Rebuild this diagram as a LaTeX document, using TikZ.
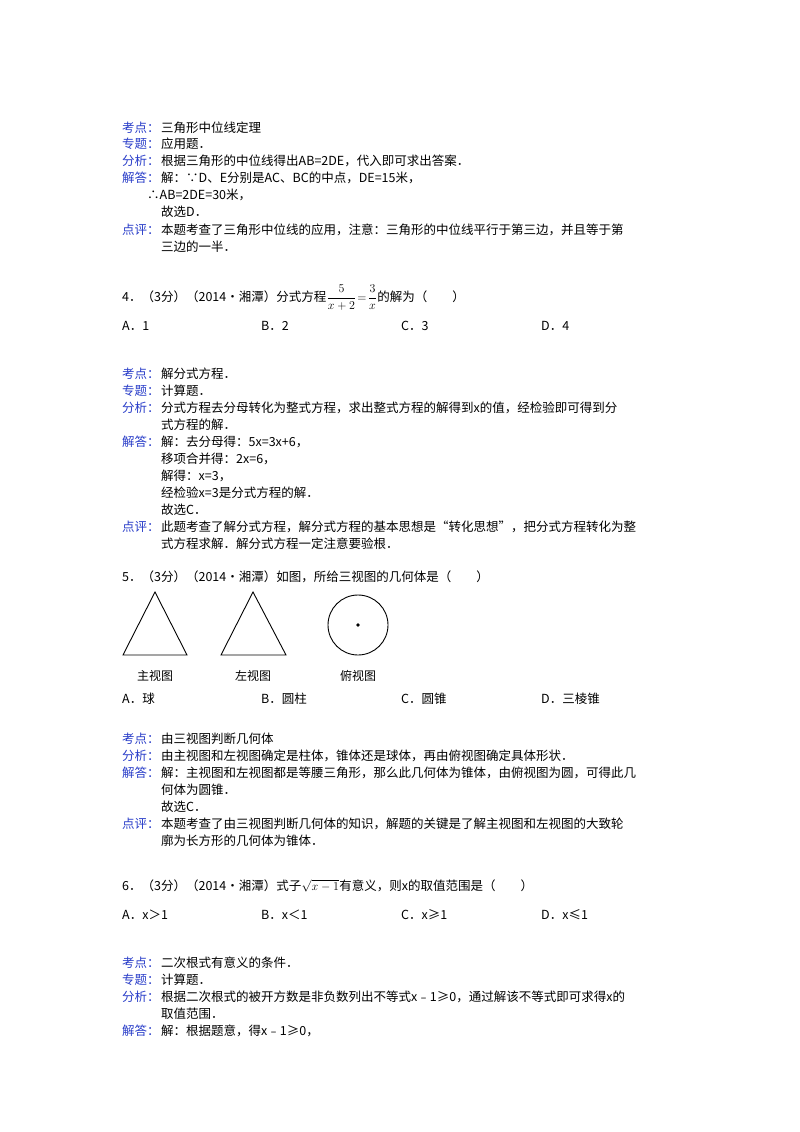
\documentclass[tikz,border=0pt]{standalone}
\usepackage{fontspec}
\setmainfont{Noto Sans CJK SC}
\definecolor{kd}{RGB}{40,60,200}
\begin{document}
\begin{tikzpicture}[x=1pt,y=-1pt,
  t/.style={anchor=base west,inner sep=0pt,font=\fontsize{12.5}{15}\selectfont},
  k/.style={t,text=kd},
  fig/.style={line width=0.9pt}]
\useasboundingbox (0,0) rectangle (800,1132);
\def\L{122}\def\M{161}
% block 1
\node[k] (k1) at (\L,132) {考点：};\node[t] (t1) at (\M,132) {三角形中位线定理};
\node[k] (k2) at (\L,148) {专题：};\node[t] (t2) at (\M,148) {应用题．};
\node[k] (k3) at (\L,165) {分析：};\node[t] (t3) at (\M,165) {根据三角形的中位线得出AB=2DE，代入即可求出答案．};
\node[k] (k4) at (\L,182) {解答：};\node[t] (t4) at (\M,182) {解：∵D、E分别是AC、BC的中点，DE=15米，};
\node[t] (t5) at (147,199) {∴AB=2DE=30米，};
\node[t] (t6) at (\M,216) {故选D．};
\node[k] (k5) at (\L,234) {点评：};\node[t] (t7) at (\M,234) {本题考查了三角形中位线的应用，注意：三角形的中位线平行于第三边，并且等于第};
\node[t] (t8) at (\M,251) {三边的一半．};
% Q4
\node[t] (q4) at (\L,301) {4．（3分）（2014•湘潭）分式方程};
\node[t] (f4) at (q4.base east) {$\displaystyle\frac{5}{x+2}\!=\!\frac{3}{x}$};
\node[t] (q4b) at (f4.base east) {的解为（\hspace{2em}）};
\node[t] (a4) at (\L,330) {A．1}; \node[t] (b4) at (261,330) {B．2};
\node[t] (c4) at (401,330) {C．3}; \node[t] (d4) at (541,330) {D．4};
\node[k] at (\L,378) {考点：};\node[t] at (\M,378) {解分式方程．};
\node[k] at (\L,395) {专题：};\node[t] at (\M,395) {计算题．};
\node[k] at (\L,412) {分析：};\node[t] at (\M,412) {分式方程去分母转化为整式方程，求出整式方程的解得到x的值，经检验即可得到分};
\node[t] at (\M,429) {式方程的解．};
\node[k] at (\L,446) {解答：};\node[t] at (\M,446) {解：去分母得：5x=3x+6，};
\node[t] at (\M,463) {移项合并得：2x=6，};
\node[t] at (\M,480) {解得：x=3，};
\node[t] at (\M,497) {经检验x=3是分式方程的解．};
\node[t] at (\M,514) {故选C．};
\node[k] at (\L,531) {点评：};\node[t] at (\M,531) {此题考查了解分式方程，解分式方程的基本思想是“转化思想”，把分式方程转化为整};
\node[t] at (\M,548) {式方程求解．解分式方程一定注意要验根．};
% Q5
\node[t] at (\L,581) {5．（3分）（2014•湘潭）如图，所给三视图的几何体是（\hspace{2em}）};
\draw[fig] (155,592) -- (123,655) -- (187,655) -- cycle;
\draw[fig] (253,592) -- (221,655) -- (286,655) -- cycle;
\draw[fig] (358,625) circle (30);
\fill (358,625) circle (1.8);
\node[anchor=center,font=\fontsize{12}{14}\selectfont] (l1) at (155,676) {主视图};
\node[anchor=center,font=\fontsize{12}{14}\selectfont] (l2) at (253,676) {左视图};
\node[anchor=center,font=\fontsize{12}{14}\selectfont] (l3) at (358,676) {俯视图};
\node[t] at (\L,703) {A．球}; \node[t] at (261,703) {B．圆柱};
\node[t] at (401,703) {C．圆锥}; \node[t] at (541,703) {D．三棱锥};
\node[k] at (\L,743) {考点：};\node[t] at (\M,743) {由三视图判断几何体};
\node[k] at (\L,760) {分析：};\node[t] at (\M,760) {由主视图和左视图确定是柱体，锥体还是球体，再由俯视图确定具体形状．};
\node[k] at (\L,777) {解答：};\node[t] at (\M,777) {解：主视图和左视图都是等腰三角形，那么此几何体为锥体，由俯视图为圆，可得此几};
\node[t] at (\M,794) {何体为圆锥．};
\node[t] at (\M,811) {故选C．};
\node[k] at (\L,828) {点评：};\node[t] at (\M,828) {本题考查了由三视图判断几何体的知识，解题的关键是了解主视图和左视图的大致轮};
\node[t] at (\M,845) {廓为长方形的几何体为锥体．};
% Q6
\node[t] (q6) at (\L,890) {6．（3分）（2014•湘潭）式子};
\node[t] (r6) at (q6.base east) {$\sqrt{x-1}$};
\node[t] at (r6.base east) {有意义，则x的取值范围是（\hspace{2em}）};
\node[t] at (\L,919) {A．x＞1}; \node[t] at (261,919) {B．x＜1};
\node[t] at (401,919) {C．x≥1}; \node[t] at (541,919) {D．x≤1};
\node[k] at (\L,967) {考点：};\node[t] at (\M,967) {二次根式有意义的条件．};
\node[k] at (\L,984) {专题：};\node[t] at (\M,984) {计算题．};
\node[k] at (\L,1001) {分析：};\node[t] at (\M,1001) {根据二次根式的被开方数是非负数列出不等式x﹣1≥0，通过解该不等式即可求得x的};
\node[t] at (\M,1018) {取值范围．};
\node[k] at (\L,1035) {解答：};\node[t] at (\M,1035) {解：根据题意，得x﹣1≥0，};
\end{tikzpicture}
\end{document}
